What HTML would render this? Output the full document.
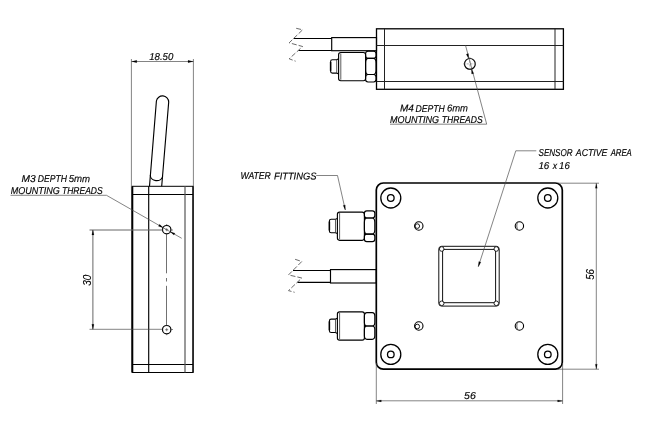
<!DOCTYPE html>
<html><head><meta charset="utf-8"><title>Drawing</title>
<style>
html,body{margin:0;padding:0;background:#fff;}
svg{display:block;will-change:transform;}
text{font-family:"Liberation Sans",sans-serif;font-style:italic;font-size:10px;fill:#000;stroke:#000;stroke-width:.15;}
.k{stroke:#000;fill:none;stroke-width:1.5;}
.m{stroke:#000;fill:none;stroke-width:1.15;}
.t{stroke:#333;fill:none;stroke-width:.6;}
.g{stroke:#4a4a4a;fill:none;stroke-width:.68;}
.a{fill:#000;stroke:#000;stroke-width:.15;}
</style></head><body>
<svg width="660" height="426" viewBox="0 0 660 426">
<rect width="660" height="426" fill="#fff"/>
<defs>
 <g id="nip">
  <path class="m" d="M0 6.3L-1.9 7.2H-6.2Q-8 7.2 -8 9V18.8Q-8 20.6 -6.2 20.6H-1.9L0 21.5" style="stroke-width:1.1"/>
  <path class="g" d="M-1.9 7.2V20.6" style="stroke:#333;stroke-width:.8"/>
  <path class="m" d="M-8 9.5V18.3" style="stroke-width:1.5"/>
 </g>
 <g id="cyl">
  <rect class="m" x="0" y="0" width="27" height="28.2" rx="2.2"/>
  <path class="g" d="M2.2 1V27.2" style="stroke:#333;stroke-width:.8"/>
 </g>
 <g id="fitA">
  <use href="#cyl"/><use href="#nip"/>
  <rect class="m" x="27" y="-1.3" width="10.4" height="7.2" rx="2.4"/>
  <rect class="m" x="27" y="5.9" width="10.4" height="16.1" rx="2.6" ry="4.5"/>
  <rect class="m" x="27" y="22" width="10.4" height="7.5" rx="2.4"/>
 </g>
 <g id="fitB">
  <use href="#cyl"/><use href="#nip"/>
  <rect class="m" x="27" y=".8" width="10.4" height="13.3" rx="2.6" ry="3.5"/>
  <rect class="m" x="27" y="14.1" width="10.4" height="13.3" rx="2.6" ry="3.5"/>
 </g>
</defs>

<!-- ============ LEFT (SIDE) VIEW ============ -->
<g id="side">
 <!-- cable -->
 <path class="m" d="M149.5 186.3 L156.4 101 A6.2 6.2 0 0 1 168.7 102 L161.7 186.3"/>
 <path class="m" d="M150.3 175.3 A6.3 5.4 0 0 0 162.7 176.6"/>
 <!-- body -->
 <rect class="m" x="132.3" y="186.3" width="60.8" height="186.2" style="stroke-width:1"/>
 <line class="k" x1="132.3" y1="186.3" x2="132.3" y2="372.5" style="stroke-width:2"/>
 <line class="k" x1="193" y1="186.3" x2="193" y2="372.5" style="stroke-width:1.2"/>
 <line class="m" x1="132.3" y1="194.5" x2="193" y2="194.5" style="stroke-width:1"/>
 <line class="m" x1="132.3" y1="364.5" x2="193" y2="364.5" style="stroke-width:1"/>
 <line class="m" x1="148.7" y1="186.3" x2="148.7" y2="372.5"/>
 <line class="t" x1="185" y1="186.3" x2="185" y2="372.5" style="stroke-width:1.2;stroke:#555"/>
 <!-- holes -->
 <circle class="m" cx="166.7" cy="229.7" r="4.2" style="stroke-width:1.2"/>
 <circle class="m" cx="166.7" cy="329.7" r="4.2" style="stroke-width:1.2"/>
 <path class="g" d="M165.2 229.7h3M166.7 228.2v3M165.2 329.7h3M166.7 328.2v3M171 230h2M166.7 224v1.2M171 329.5h2M166.7 334v1.2"/>
 <path class="g" d="M166.5 233.8V273.3M166.5 278v3.5M166.5 285.8V325.6" style="stroke:#333;stroke-width:.7"/>
 <!-- 18.50 dim -->
 <path class="g" d="M131.4 59V190M193.4 59V186M131.4 61.5H193.4"/>
 <path class="a" d="M131.6 61.5l5.2-1.15v2.3zM193.2 61.5l-5.2-1.15v2.3z"/>
 <text transform="rotate(.03 149.2 60.0)" x="149.21" y="60.0" textLength="24.10" lengthAdjust="spacingAndGlyphs">18.50</text>
 <!-- 30 dim -->
 <path class="g" d="M89.5 230H162.5M92.9 230V329.3" style="stroke:#666;stroke-width:1"/><path class="g" d="M89.5 329.3H162.5"/>
 <path class="a" d="M92.9 230l-1.1 5h2.2zM92.9 329.3l-1.1-5h2.2z"/>
 <text transform="translate(90.9 285.8) rotate(-90)" textLength="11" lengthAdjust="spacingAndGlyphs">30</text>
 <!-- M3 note -->
 <text transform="rotate(.03 21.5 182.1)" y="182.1"><tspan x="21.52" textLength="14.15" lengthAdjust="spacingAndGlyphs">M3</tspan> <tspan x="37.86" textLength="29.09" lengthAdjust="spacingAndGlyphs">DEPTH</tspan> <tspan x="68.63" textLength="21.43" lengthAdjust="spacingAndGlyphs">5mm</tspan></text>
 <text transform="rotate(.03 10.7 193.6)" y="193.6"><tspan x="10.68" textLength="49.21" lengthAdjust="spacingAndGlyphs">MOUNTING</tspan> <tspan x="62.02" textLength="40.65" lengthAdjust="spacingAndGlyphs">THREADS</tspan></text>
 <path class="g" d="M10.5 195.3H106.5L181.7 238.3"/>
 <path class="a" d="M163.3 227.75l-4.9-1.55 1.1-1.9zM170.1 231.65l4.9 1.55-1.1 1.9z"/>
</g>

<!-- ============ TOP VIEW ============ -->
<g id="top">
 <!-- break lines -->
 <path class="g" d="M296.2 28.3L302.6 29.8L289.2 42.8L302.6 46.5L289.2 58.8L295.6 61.2" stroke-dasharray="5 2" style="stroke:#444;stroke-width:.8"/>
 <!-- cable -->
 <path class="m" d="M293.7 38.5H331.7M298.7 50.5H331.7"/>
 <rect class="m" x="331.7" y="37.6" width="44.8" height="13.1"/>
 <!-- body -->
 <rect class="m" x="376.5" y="28.8" width="186.9" height="60.5" style="stroke-width:1.3"/>
 <path class="m" d="M384.5 28.8V89.3M555 28.8V89.3M376.5 45.5H563.4M376.5 81.5H563.4" style="stroke-width:1;stroke:#222"/>
 <!-- fitting -->
 <use href="#fitA" x="338.6" y="52.5"/>
 <!-- hole -->
 <circle class="m" cx="469.9" cy="63.9" r="5.4" style="stroke-width:1.2"/>
 <path class="g" d="M463 63.9H476.8M469.9 57V70.8" stroke-dasharray="2.2 1.4" style="stroke:#777;stroke-width:.6"/>
 <!-- note -->
 <path class="g" d="M390 124.2H486.7L465.5 45.3"/>
 <path class="a" d="M468.6 58.7l-2.35-4.55 2.1-.57zM471.4 68.9l2.35 4.55-2.1.57z"/>
 <text transform="rotate(.03 400.0 111.5)" y="111.5"><tspan x="399.95" textLength="13.84" lengthAdjust="spacingAndGlyphs">M4</tspan> <tspan x="415.62" textLength="29.23" lengthAdjust="spacingAndGlyphs">DEPTH</tspan> <tspan x="447.01" textLength="21.00" lengthAdjust="spacingAndGlyphs">6mm</tspan></text>
 <text transform="rotate(.03 389.9 122.6)" y="122.6"><tspan x="389.92" textLength="49.24" lengthAdjust="spacingAndGlyphs">MOUNTING</tspan> <tspan x="441.83" textLength="40.87" lengthAdjust="spacingAndGlyphs">THREADS</tspan></text>
</g>

<!-- ============ FRONT VIEW ============ -->
<g id="front">
 <!-- plate -->
 <rect class="k" x="376.3" y="183" width="186" height="186.2" rx="7" style="stroke-width:1.7"/>
 <!-- corner holes -->
 <g class="m" style="stroke-width:1.3">
  <circle cx="390.8" cy="198" r="10"/><circle cx="390.8" cy="198" r="3.3"/>
  <circle cx="547.8" cy="198" r="10"/><circle cx="547.8" cy="198" r="3.3"/>
  <circle cx="390.8" cy="354.4" r="10"/><circle cx="390.8" cy="354.4" r="3.3"/>
  <circle cx="547.8" cy="354.4" r="10"/><circle cx="547.8" cy="354.4" r="3.3"/>
 </g>
 <!-- small holes -->
 <g class="m" style="stroke-width:1.1">
  <circle cx="418.8" cy="226" r="4.2"/><circle cx="417.3" cy="226.1" r="2.3" style="stroke-width:.9"/>
  <circle cx="519.4" cy="226" r="4.2"/><path d="M517.2 222.6Q516.2 226 517.4 229.6" style="stroke-width:.8;stroke:#333"/>
  <circle cx="418.8" cy="326" r="4.2"/><circle cx="417.3" cy="326.5" r="2.3" style="stroke-width:.9"/>
  <circle cx="519.4" cy="326" r="4.2"/><path d="M517.2 322.6Q516.2 326 517.4 329.6" style="stroke-width:.8;stroke:#333"/>
 </g>
 <!-- sensor window -->
 <g class="m" style="stroke:#111;stroke-width:1">
  <rect x="438.8" y="246.3" width="60.4" height="59.8" rx="2.8"/>
  <rect x="442.6" y="249.4" width="53" height="53.3" rx=".6"/>
  <g style="fill:#fff;stroke-width:.9">
  <circle cx="441.7" cy="249" r="2.3"/>
  <circle cx="496.3" cy="249" r="2.3"/>
  <circle cx="441.7" cy="303.3" r="2.3"/>
  <circle cx="496.3" cy="303.3" r="2.3"/>
  </g>
 </g>
 <!-- fittings -->
 <use href="#fitA" x="337.4" y="212.1"/>
 <use href="#fitB" x="337.4" y="311.9"/>
 <!-- cable -->
 <path class="g" d="M295.1 259.3L301.8 261.5L288.5 274.9L301.8 278L288.5 290.6L294.6 292.3" stroke-dasharray="5 2" style="stroke:#444;stroke-width:.8"/>
 <path class="m" d="M293 270.5H330.5M297.6 282.3H330.5"/>
 <rect class="m" x="330.5" y="269.6" width="45.8" height="13.4"/>
 <!-- water fittings note -->
 <text transform="rotate(.03 240.5 179.4)" y="179.4"><tspan x="240.46" textLength="30.41" lengthAdjust="spacingAndGlyphs">WATER</tspan> <tspan x="273.95" textLength="42.50" lengthAdjust="spacingAndGlyphs">FITTINGS</tspan></text>
 <path class="g" d="M316.2 175.5H337.5L345.3 210"/>
 <path class="a" d="M345.3 210l-2.15-4.6 2.1-.5z"/>
 <!-- sensor note -->
 <text transform="rotate(.03 538.5 156.0)" y="156.0"><tspan x="538.50" textLength="34.08" lengthAdjust="spacingAndGlyphs">SENSOR</tspan> <tspan x="575.81" textLength="31.68" lengthAdjust="spacingAndGlyphs">ACTIVE</tspan> <tspan x="610.63" textLength="21.10" lengthAdjust="spacingAndGlyphs">AREA</tspan></text>
 <text transform="rotate(.03 538.4 169.0)" y="169.0"><tspan x="538.40" textLength="10.87" lengthAdjust="spacingAndGlyphs">16</tspan> <tspan x="552.70" textLength="4.38" lengthAdjust="spacingAndGlyphs">x</tspan> <tspan x="559.12" textLength="10.63" lengthAdjust="spacingAndGlyphs">16</tspan></text>
 <path class="g" d="M536.3 150.8H515.8L478.3 266.7"/>
 <path class="a" d="M478.3 266.7l.5-5.1 2.1.7z"/>
 <!-- 56 horizontal -->
 <path class="g" d="M376.3 363V404M562.6 363V404M376.3 400.8H562.6"/>
 <path class="a" d="M376.5 400.9l4.8-1v2zM562.4 400.9l-4.8-1v2z"/>
 <text transform="rotate(.03 464.1 399.1)" x="464.11" y="399.1" textLength="11.67" lengthAdjust="spacingAndGlyphs">56</text>
 <!-- 56 vertical -->
 <path class="g" d="M558 183.2H599M558 369.2H599M596.3 183.2V369.2"/>
 <path class="a" d="M596.3 183.4l-1 4.8h2zM596.3 369l-1-4.8h2z"/>
 <text transform="translate(594.2 279.8) rotate(-90)" textLength="10.8" lengthAdjust="spacingAndGlyphs">56</text>
</g>
</svg>
</body></html>
